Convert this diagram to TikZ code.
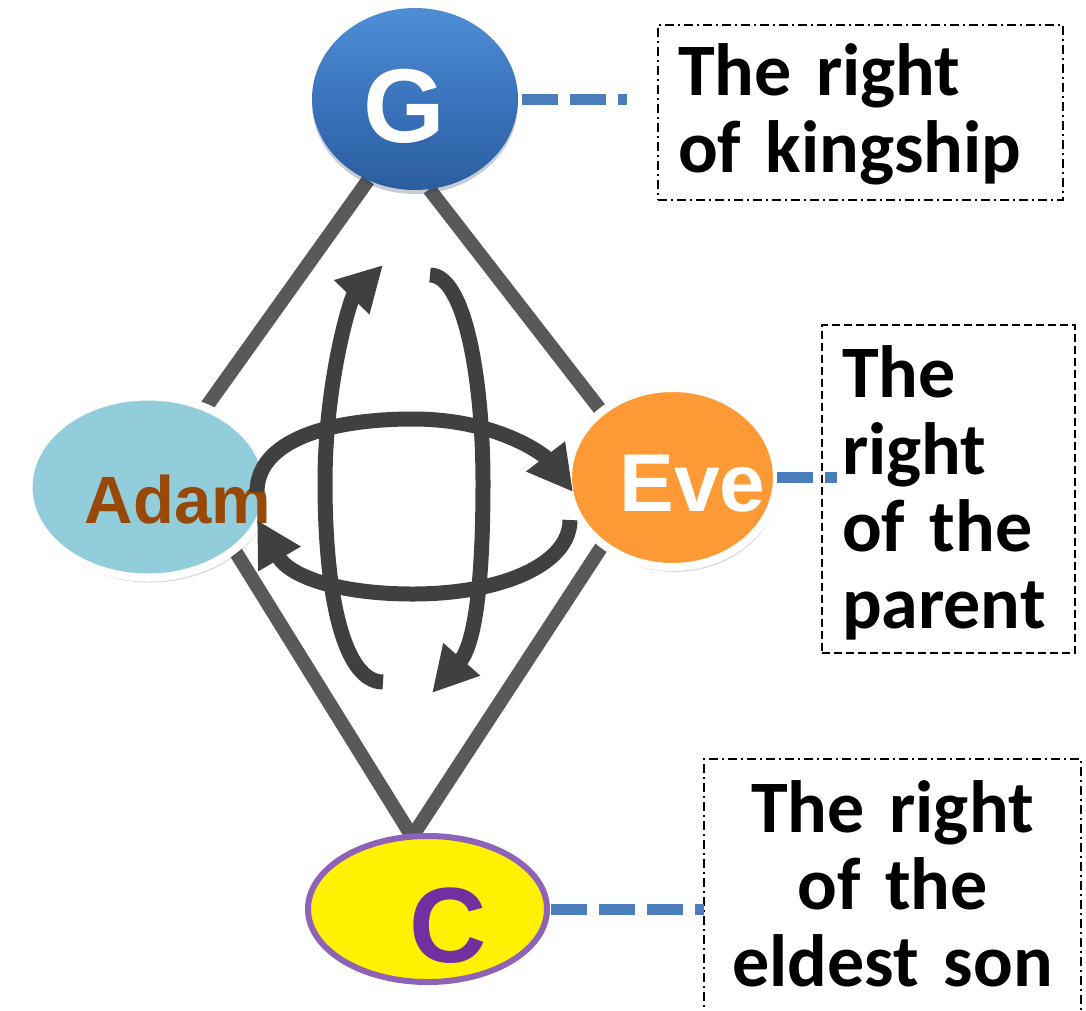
\documentclass[tikz,border=0pt]{standalone}
\usepackage{fontspec}
\usepackage{tikz}
\usetikzlibrary{shapes.geometric,arrows.meta,shadows,backgrounds}
\setmainfont{Liberation Sans}
\newfontfamily\notefont{Carlito}
\definecolor{gbluetop}{HTML}{4F8ED6}
\definecolor{gbluemid}{HTML}{3A74BD}
\definecolor{gbluebot}{HTML}{2B5D9E}
\definecolor{adamfill}{HTML}{92CDDC}
\definecolor{adamtext}{HTML}{984807}
\definecolor{evefill}{HTML}{FD9A35}
\definecolor{cpurple}{HTML}{8E62B6}
\definecolor{ctext}{HTML}{7030A0}
\definecolor{rodgray}{HTML}{595959}
\definecolor{turngray}{HTML}{404040}
\definecolor{leaderblue}{HTML}{4A7EBB}

\begin{document}
\begin{tikzpicture}[
	x=1pt, y=-1pt,
	person/.style={
		ellipse, inner sep=0pt, outer sep=0pt,
		draw=white, line width=8pt,
		drop shadow={shadow xshift=2pt, shadow yshift=-5pt, fill=black, opacity=0.15}
	},
	persontag/.style={
		anchor=base, inner sep=0pt,
		font=\bfseries\fontsize{#1}{#1}\selectfont
	},
	notebox/.style={
		draw, line width=2pt, outer sep=0pt, inner xsep=20pt,
		anchor=north west, text height=52pt,
		font=\notefont\bfseries\fontsize{74}{77}\selectfont
	},
	dashdot/.style={dash pattern=on 9pt off 4pt on 2pt off 4pt},
	rod/.style={rodgray, line width=14pt},
	turn/.style={turngray, line width=15pt, -{Triangle[length=45pt,width=46pt]}},
	leader/.style={leaderblue, line width=11pt, dash pattern=on 36pt off 12pt}
	]
	\clip (0,0) rectangle (1086,1010);
	\node[ellipse, inner sep=0pt, outer sep=0pt, minimum width=206pt, minimum height=182pt,
		top color=gbluetop, bottom color=gbluebot, middle color=gbluemid,
		drop shadow={shadow xshift=0pt, shadow yshift=-4pt, fill=gbluebot!60!black, opacity=0.25}] (g) at (415,99) {};
	\node[person, fill=adamfill, minimum width=239pt, minimum height=181pt] (adam) at (148,487) {};
	\node[person, fill=evefill, minimum width=209pt, minimum height=179pt] (eve) at (672.5,477.5) {};
	\node[ellipse, inner sep=0pt, outer sep=0pt, draw=cpurple, line width=6pt, fill=yellow,
		minimum width=239pt, minimum height=146pt] (c) at (427.5,909) {};
	\begin{scope}[on background layer]
		\draw[rod] (g.-120) -- (adam.54);
		\draw[rod] (g.-81) -- (eve.137);
		\draw[rod, miter limit=20] (adam.-36) -- (c.102) -- (eve.-136);
	\end{scope}
	\node[persontag=105, text=white] (gname) at ([xshift=-11pt,yshift=-43pt]g.center) {G};
	\node[persontag=67, text=adamtext] (adamname) at ([xshift=30pt,yshift=-36pt]adam.center) {Adam};
	\node[persontag=82, text=white] (evename) at ([xshift=20pt,yshift=-34pt]eve.center) {Eve};
	\node[persontag=107, text=ctext] (cname) at ([xshift=21pt,yshift=-53pt]c.center) {C};
	\node[notebox, dashdot, inner ysep=18pt, text width=365pt, text depth=87pt, align=left]
		(kingbox) at (658,25) {The right\\of kingship};
	\node[notebox, dash pattern=on 8pt off 4pt, inner ysep=20pt, text width=213pt, text depth=236pt, align=left]
		(parentbox) at (822,325) {The\\right\\of the\\parent};
	\node[notebox, dashdot, inner ysep=21pt, text width=337pt, text depth=230pt, align=center]
		(sonbox) at (704,759) {The right\\of the\\eldest son};
	\draw[leader, shorten <=4pt, shorten >=31pt] (g.east) -- (g.east -| kingbox.west);
	\draw[leader, shorten >=-15pt] (eve.east) -- (eve.east -| parentbox.west);
	\draw[leader, shorten <=4pt] (c.east) -- (c.east -| sonbox.west);
	\draw[turn] (257,492) .. controls (257,440) and (330,419) .. (413,419)
		.. controls (500,419) and (546,457) .. (573,492);
	\draw[turn] (570,520) .. controls (570,565) and (500,594) .. (413,594)
		.. controls (340,594) and (290,577) .. (257,520);
	\draw[turn] (383,682) .. controls (345,682) and (325,600) .. (325,483)
		.. controls (325,380) and (351,298) .. (383,265);
	\draw[turn] (430,275) .. controls (465,275) and (483,380) .. (483,483)
		.. controls (483,610) and (470,650) .. (432,693);
\end{tikzpicture}
\end{document}
